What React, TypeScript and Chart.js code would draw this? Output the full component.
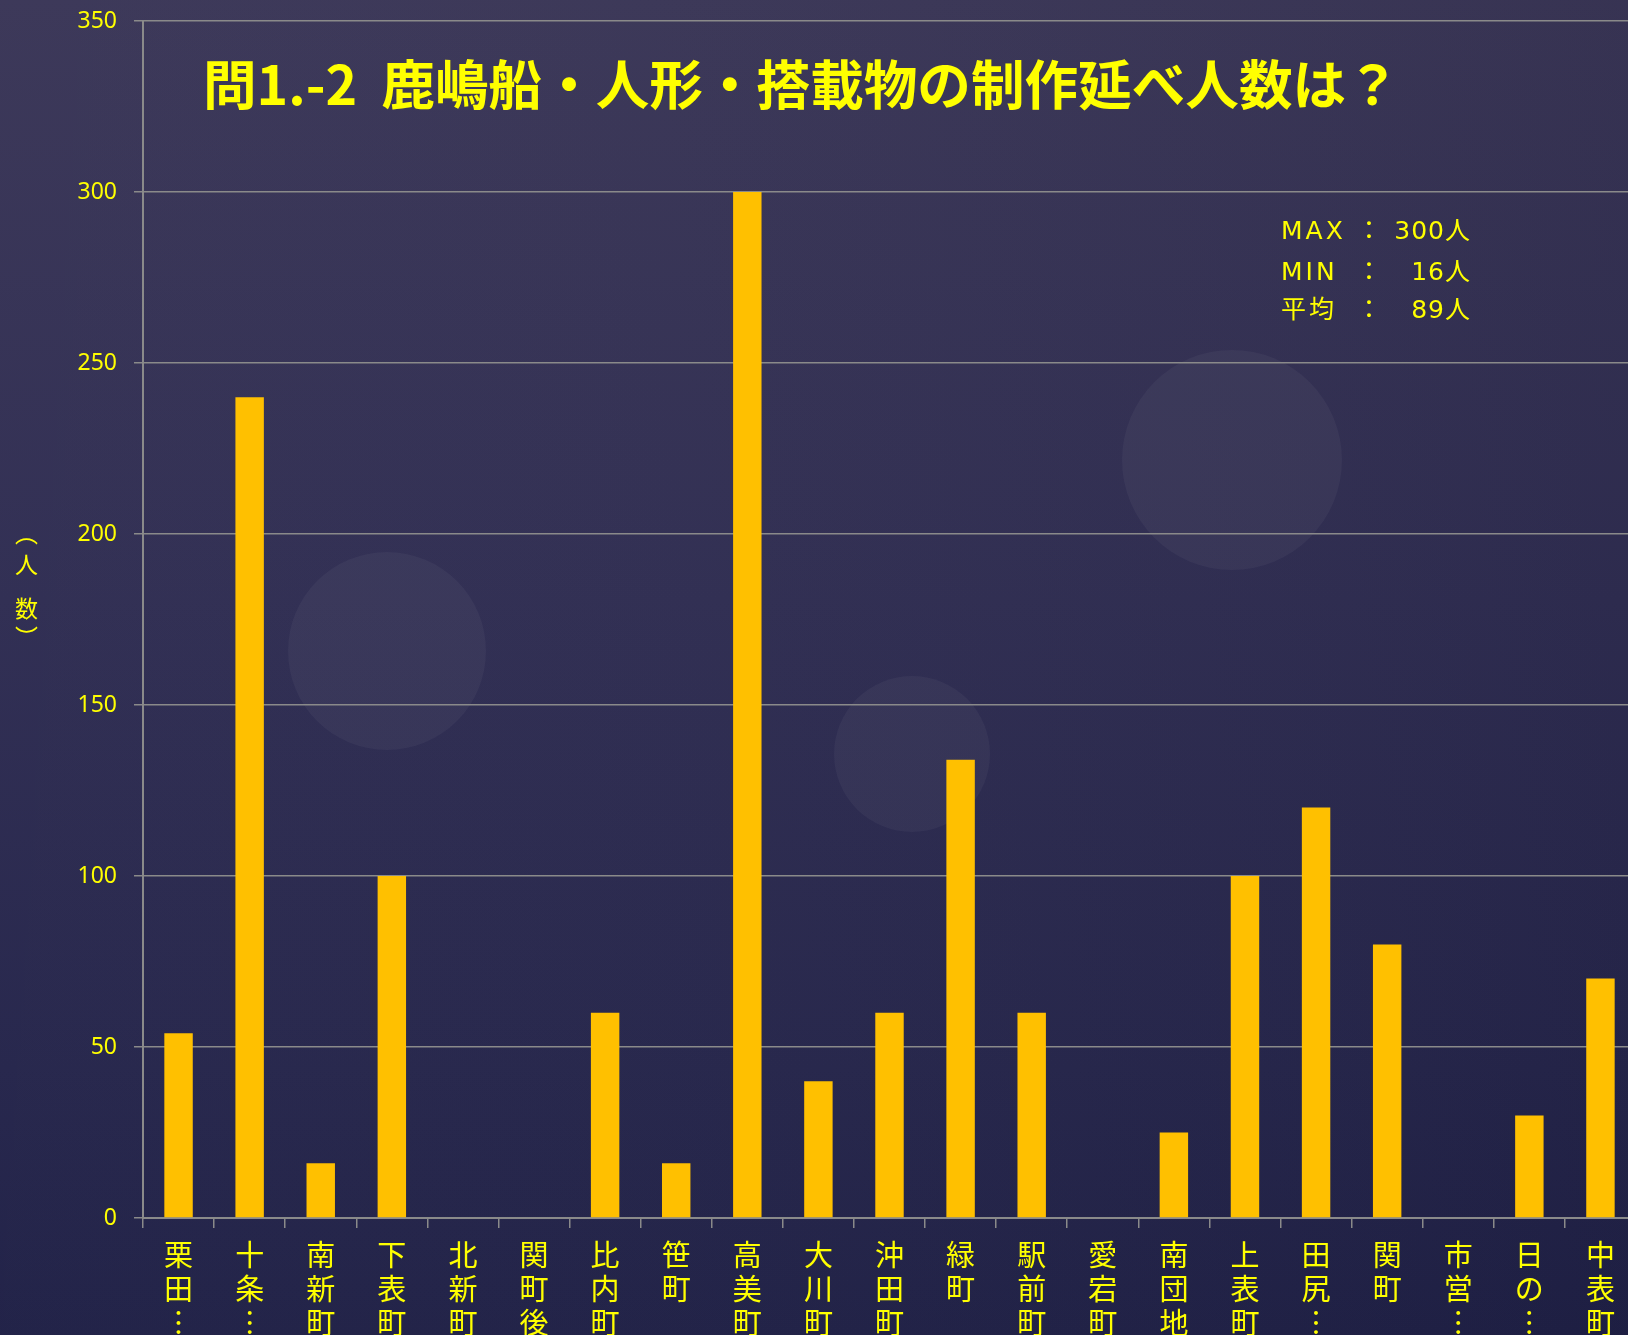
import React, { useEffect, useRef } from 'react';
import { Chart, registerables } from 'chart.js';

Chart.register(...registerables);

// ---- data ----
const categories = [
  '栗田…', '十条…', '南新町', '下表町', '北新町', '関町後', '比内町', '笹町', '高美町', '大川町',
  '沖田町', '緑町', '駅前町', '愛宕町', '南団地', '上表町', '田尻…', '関町', '市営…', '日の…', '中表町',
];
const workers: (number | null)[] = [
  54, 240, 16, 100, null, null, 60, 16, 300, 40,
  60, 134, 60, null, 25, 100, 120, 80, null, 30, 70,
];
const yMin = 0;
const yMax = 350;
const yStep = 50;
const titleText = '問1.-2  鹿嶋船・人形・搭載物の制作延べ人数は？';
const statLabels = ['MAX', 'MIN', '平均'];
const statValues = ['300人', '16人', '89人'];
const yAxisTitle = ['︵', '人', '数', '︶'];

const YELLOW = '#ffff00';
const GRID = '#8a8a8a';

const verticalLabel = (s: string) => Array.from(s).map((c) => (c === '…' ? '︙' : c));

const decorPlugin = {
  id: 'decor',
  beforeDraw(chart: any) {
    const { ctx, width, height } = chart;
    ctx.save();
    const g = ctx.createLinearGradient(0, 0, 0, height);
    g.addColorStop(0, '#3a3657');
    g.addColorStop(0.45, '#2f2d52');
    g.addColorStop(0.8, '#25254b');
    g.addColorStop(1, '#1f2046');
    ctx.fillStyle = g;
    ctx.fillRect(0, 0, width, height);
    const h = ctx.createLinearGradient(0, 0, width, 0);
    h.addColorStop(0, 'rgba(255,255,255,0.015)');
    h.addColorStop(1, 'rgba(0,0,0,0.05)');
    ctx.fillStyle = h;
    ctx.fillRect(0, 0, width, height);
    const circles = [
      [387, 651, 99],
      [912, 754, 78],
      [1232, 460, 110],
    ];
    ctx.fillStyle = 'rgba(255,255,255,0.04)';
    circles.forEach(([x, y, r]) => {
      ctx.beginPath();
      ctx.arc(x, y, r, 0, Math.PI * 2);
      ctx.fill();
    });
    ctx.restore();
  },
  afterDraw(chart: any) {
    const { ctx } = chart;
    ctx.save();
    // title
    ctx.fillStyle = YELLOW;
    ctx.textBaseline = 'middle';
    ctx.textAlign = 'left';
    ctx.font = 'bold 53.6px "Noto Sans CJK JP"';
    ctx.fillText(titleText, 203, 85);

    // stats
    ctx.font = '25px "DejaVu Sans", "Noto Sans CJK JP"';
    ctx.textBaseline = 'alphabetic';
    const rows = [239, 280, 318];
    statLabels.forEach((lab, i) => {
      ctx.textAlign = 'left';
      (ctx as any).letterSpacing = '3px';
      ctx.fillText(lab, 1281, rows[i]);
      ctx.textAlign = 'center';
      (ctx as any).letterSpacing = '0px';
      ctx.fillText('：', 1369, rows[i]);
      ctx.textAlign = 'right';
      (ctx as any).letterSpacing = '1px';
      ctx.fillText(statValues[i], 1471, rows[i]);
    });
    (ctx as any).letterSpacing = '0px';

    // y axis title (vertical)
    ctx.font = '23px "Noto Sans CJK JP"';
    ctx.textAlign = 'center';
    ctx.textBaseline = 'middle';
    const ys = [533, 564, 608, 637];
    yAxisTitle.forEach((c, i) => ctx.fillText(c, 26.5, ys[i]));
    ctx.restore();
  },
};

export default function App() {
  const ref = useRef<HTMLCanvasElement | null>(null);

  useEffect(() => {
    if (!ref.current) return;
    const chart = new Chart(ref.current, {
      type: 'bar',
      data: {
        labels: categories.map(verticalLabel),
        datasets: [
          {
            data: workers,
            backgroundColor: '#ffc000',
            borderWidth: 0,
            categoryPercentage: 1.0,
            barPercentage: 0.4,
          },
        ],
      },
      options: {
        responsive: false,
        animation: false,
        devicePixelRatio: 1,
        layout: { padding: { left: 0, right: 4, top: 21, bottom: 0 } },
        plugins: {
          legend: { display: false },
          tooltip: { enabled: false },
          title: { display: false },
        },
        scales: {
          x: {
            offset: true,
            grid: {
              display: true,
              drawOnChartArea: false,
              drawTicks: true,
              tickLength: 10,
              color: GRID,
              lineWidth: 1.5,
              offset: true,
            },
            border: { display: true, color: GRID, width: 2 },
            ticks: {
              autoSkip: false,
              maxRotation: 0,
              minRotation: 0,
              padding: 10,
              color: YELLOW,
              font: { family: '"Noto Sans CJK JP"', size: 29, lineHeight: '34px' },
            },
            afterFit: (s: any) => {
              s.height = 117;
              s.paddingLeft = 0;
              s.paddingRight = 0;
            },
          },
          y: {
            min: yMin,
            max: yMax,
            ticks: {
              stepSize: yStep,
              padding: 17,
              color: YELLOW,
              font: { family: '"Noto Sans"', size: 23 },
            },
            grid: { color: GRID, lineWidth: 1.5, tickLength: 9, drawTicks: true },
            border: { display: true, color: GRID, width: 2 },
            afterFit: (s: any) => {
              s.width = 143;
              s.paddingTop = 0;
              s.paddingBottom = 0;
            },
          },
        },
      },
      plugins: [decorPlugin],
    });
    return () => chart.destroy();
  }, []);

  return (
    <div
      style={{
        position: 'fixed',
        left: 0,
        top: 0,
        width: 1628,
        height: 1335,
        overflow: 'hidden',
        background: '#2a2a50',
      }}
    >
      <canvas ref={ref} width={1640} height={1335} style={{ display: 'block' }} />
    </div>
  );
}
